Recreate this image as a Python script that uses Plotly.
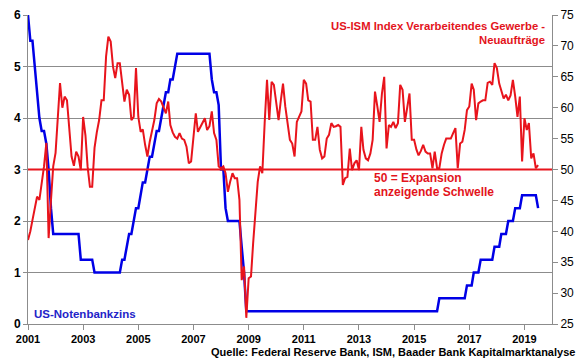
import plotly.graph_objects as go
import pandas as pd

# ---------------- data (monthly, Jan 2001 .. Jul 2019) ----------------
start_month = "2001-01-01"

ism_new_orders = [
    38.6, 40.0, 41.8, 43.5, 45.6, 45.1, 47.8, 50.5, 54.3, 38.9, 45.0, 50.5,   # 2001
    52.7, 58.0, 64.0, 60.0, 61.8, 61.2, 57.0, 52.1, 50.6, 52.9, 52.1, 49.9,   # 2002
    58.5, 55.5, 50.5, 47.2, 47.2, 53.5, 56.0, 58.0, 61.2, 61.2, 68.3, 71.5,   # 2003
    70.7, 66.6, 64.8, 67.2, 67.2, 64.0, 61.0, 62.9, 62.1, 58.0, 58.5, 66.4,   # 2004
    58.5, 56.1, 56.5, 54.0, 52.1, 54.5, 56.0, 58.0, 60.7, 61.4, 61.0, 60.0,   # 2005
    59.1, 61.0, 57.2, 56.0, 55.3, 55.0, 55.9, 55.0, 54.8, 53.7, 51.0, 51.3,   # 2006
    55.9, 59.1, 56.1, 56.9, 57.5, 58.3, 56.4, 57.0, 59.4, 55.9, 54.8, 50.5,   # 2007
    50.2, 50.5, 49.4, 46.4, 48.0, 49.4, 48.6, 48.6, 45.1, 32.1, 34.3, 26.0,   # 2008
    32.4, 32.7, 38.0, 44.0, 48.0, 50.5, 49.4, 57.5, 64.5, 58.0, 64.2, 63.7,   # 2009
    60.5, 58.0, 61.0, 63.9, 60.2, 57.0, 54.8, 54.2, 52.1, 57.7, 58.5, 59.4,   # 2010
    64.5, 63.9, 61.2, 61.0, 54.8, 54.8, 56.9, 53.2, 51.8, 52.1, 55.0, 55.6,   # 2011
    57.5, 56.9, 57.0, 57.2, 56.9, 47.5, 48.6, 48.8, 53.4, 49.9, 51.0, 51.5,   # 2012
    49.9, 56.9, 53.2, 51.8, 51.5, 52.6, 54.8, 62.6, 60.2, 57.7, 62.3, 65.0,   # 2013
    53.4, 57.2, 56.9, 57.7, 56.7, 57.5, 63.7, 62.9, 57.7, 60.0, 62.3, 54.8,   # 2014
    54.8, 53.2, 52.3, 53.0, 54.0, 52.9, 52.6, 52.6, 50.2, 52.9, 50.2, 50.2,   # 2015
    52.6, 54.0, 55.0, 55.0, 55.0, 55.9, 56.7, 50.2, 54.2, 54.5, 56.4, 59.6,   # 2016
    60.2, 63.9, 62.9, 58.0, 60.7, 61.0, 61.2, 61.2, 64.0, 64.2, 63.7, 67.2,   # 2017
    66.4, 63.9, 62.6, 61.5, 62.1, 61.2, 62.0, 64.5, 61.8, 58.5, 61.8, 51.3,   # 2018
    58.3, 56.4, 57.5, 51.8, 52.6, 50.2, 50.7,                                 # 2019
]

fed_funds_rate = [
    6.00, 5.50, 5.50, 5.00, 4.50, 4.00, 3.75, 3.75, 3.50, 3.00, 2.25, 1.75,   # 2001
    1.75, 1.75, 1.75, 1.75, 1.75, 1.75, 1.75, 1.75, 1.75, 1.75, 1.75, 1.25,   # 2002
    1.25, 1.25, 1.25, 1.25, 1.25, 1.00, 1.00, 1.00, 1.00, 1.00, 1.00, 1.00,   # 2003
    1.00, 1.00, 1.00, 1.00, 1.00, 1.25, 1.25, 1.50, 1.75, 1.75, 2.00, 2.25,   # 2004
    2.25, 2.50, 2.75, 2.75, 3.00, 3.25, 3.25, 3.50, 3.75, 3.75, 4.00, 4.25,   # 2005
    4.50, 4.50, 4.75, 4.75, 5.00, 5.25, 5.25, 5.25, 5.25, 5.25, 5.25, 5.25,   # 2006
    5.25, 5.25, 5.25, 5.25, 5.25, 5.25, 5.25, 5.25, 4.75, 4.50, 4.50, 4.25,   # 2007
    3.00, 3.00, 2.25, 2.00, 2.00, 2.00, 2.00, 2.00, 2.00, 1.50, 1.00, 0.25,   # 2008
    0.25, 0.25, 0.25, 0.25, 0.25, 0.25, 0.25, 0.25, 0.25, 0.25, 0.25, 0.25,   # 2009
    0.25, 0.25, 0.25, 0.25, 0.25, 0.25, 0.25, 0.25, 0.25, 0.25, 0.25, 0.25,   # 2010
    0.25, 0.25, 0.25, 0.25, 0.25, 0.25, 0.25, 0.25, 0.25, 0.25, 0.25, 0.25,   # 2011
    0.25, 0.25, 0.25, 0.25, 0.25, 0.25, 0.25, 0.25, 0.25, 0.25, 0.25, 0.25,   # 2012
    0.25, 0.25, 0.25, 0.25, 0.25, 0.25, 0.25, 0.25, 0.25, 0.25, 0.25, 0.25,   # 2013
    0.25, 0.25, 0.25, 0.25, 0.25, 0.25, 0.25, 0.25, 0.25, 0.25, 0.25, 0.25,   # 2014
    0.25, 0.25, 0.25, 0.25, 0.25, 0.25, 0.25, 0.25, 0.25, 0.25, 0.25, 0.50,   # 2015
    0.50, 0.50, 0.50, 0.50, 0.50, 0.50, 0.50, 0.50, 0.50, 0.50, 0.50, 0.75,   # 2016
    0.75, 0.75, 1.00, 1.00, 1.00, 1.25, 1.25, 1.25, 1.25, 1.25, 1.25, 1.50,   # 2017
    1.50, 1.50, 1.75, 1.75, 1.75, 2.00, 2.00, 2.00, 2.25, 2.25, 2.25, 2.50,   # 2018
    2.50, 2.50, 2.50, 2.50, 2.50, 2.50, 2.25,                                 # 2019
]

expansion_threshold = 50
x_tick_years = [2001, 2003, 2005, 2007, 2009, 2011, 2013, 2015, 2017, 2019]
x_range_years = [2001, 2020]

months = pd.date_range(start_month, periods=len(ism_new_orders), freq="MS")

RED = "#e8141c"
BLUE = "#0000e6"
TEXT_RED = "#e3141c"
TEXT_BLUE = "#2323c8"
GRID = "#8c8c8c"
FONT = "Arial, Liberation Sans, sans-serif"

fig = go.Figure()
fig.add_trace(go.Scatter(x=months, y=fed_funds_rate, mode="lines", name="US-Notenbankzins",
                         line=dict(color=BLUE, width=2.5), yaxis="y"))
fig.add_trace(go.Scatter(x=months, y=ism_new_orders, mode="lines",
                         name="US-ISM Index Verarbeitendes Gewerbe - Neuaufträge",
                         line=dict(color=RED, width=2), yaxis="y2"))
fig.add_shape(type="line", xref="paper", x0=0, x1=1, yref="y2",
              y0=expansion_threshold, y1=expansion_threshold,
              line=dict(color=RED, width=2))

fig.update_layout(
    width=580, height=359,
    margin=dict(l=28, r=28, t=15, b=35, autoexpand=False),
    paper_bgcolor="white", plot_bgcolor="white",
    showlegend=False,
    font=dict(family=FONT, color="black"),
    xaxis=dict(
        type="date",
        range=[f"{x_range_years[0]}-01-01", f"{x_range_years[1]}-01-01"],
        tickvals=[f"{y}-01-01" for y in x_tick_years],
        ticktext=[str(y) for y in x_tick_years],
        ticks="outside", ticklen=5, tickcolor=GRID,
        showline=True, linecolor=GRID, linewidth=1,
        showgrid=False, zeroline=False,
        tickfont=dict(family=FONT, size=11, color="black", weight="bold"),
    ),
    yaxis=dict(
        range=[0, 6], dtick=1, tick0=0,
        showgrid=True, gridcolor=GRID, gridwidth=1, zeroline=False,
        showline=True, linecolor=GRID, linewidth=1,
        ticks="outside", ticklen=4, tickcolor=GRID,
        tickfont=dict(family=FONT, size=12, color="black", weight="bold"),
    ),
    yaxis2=dict(
        overlaying="y", side="right",
        range=[25, 75], dtick=5, tick0=25,
        showgrid=False, zeroline=False,
        showline=True, linecolor=GRID, linewidth=1,
        ticks="outside", ticklen=5, tickcolor=GRID,
        tickfont=dict(family=FONT, size=12, color="black"),
    ),
)

ann_font_red = dict(family=FONT, size=11.3, color=TEXT_RED, weight="bold")
fig.add_annotation(xref="paper", yref="paper", x=0.9905, y=0.964, xanchor="right", yanchor="middle",
                   text="US-ISM Index Verarbeitendes Gewerbe -", showarrow=False, font=ann_font_red)
fig.add_annotation(xref="paper", yref="paper", x=0.9905, y=0.920, xanchor="right", yanchor="middle",
                   text="Neuaufträge", showarrow=False, font=ann_font_red)
fig.add_annotation(xref="paper", yref="paper", x=0.656, y=0.4725, xanchor="left", yanchor="middle",
                   text="50 = Expansion", showarrow=False,
                   font=dict(family=FONT, size=12, color=TEXT_RED, weight="bold"))
fig.add_annotation(xref="paper", yref="paper", x=0.656, y=0.428, xanchor="left", yanchor="middle",
                   text="anzeigende Schwelle", showarrow=False,
                   font=dict(family=FONT, size=12, color=TEXT_RED, weight="bold"))
fig.add_annotation(xref="paper", yref="paper", x=0.008, y=0.032, xanchor="left", yanchor="middle",
                   text="US-Notenbankzins", showarrow=False,
                   font=dict(family=FONT, size=11.5, color=TEXT_BLUE, weight="bold"))
fig.add_annotation(xref="paper", yref="paper", x=1.0477, y=-0.0906, xanchor="right", yanchor="middle",
                   text="Quelle: Federal Reserve Bank, ISM, Baader Bank Kapitalmarktanalyse", showarrow=False,
                   font=dict(family=FONT, size=11, color="black", weight="bold"))

fig.write_html("out.html", config={"displayModeBar": False},
               post_script="document.body.style.margin='0px';")
